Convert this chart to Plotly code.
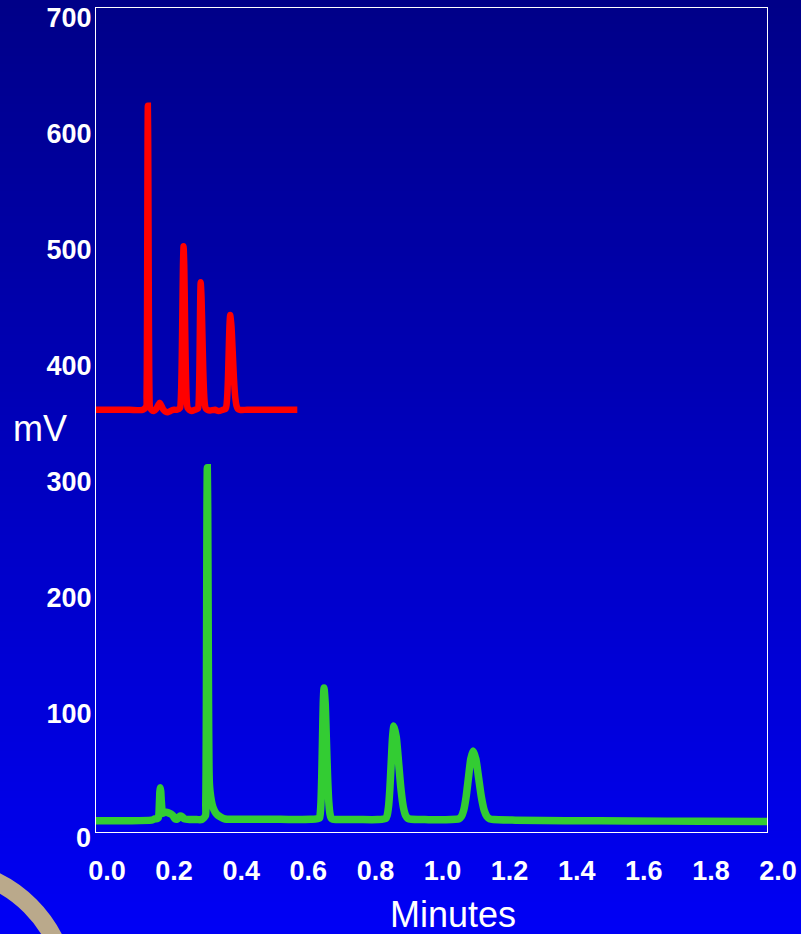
import plotly.graph_objects as go

# ---------------- data ----------------
red_x = [0.000, 0.050, 0.100, 0.140, 0.1500, 0.15075, 0.1515, 0.15225, 0.1530, 0.15375, 0.1545,
         0.1555, 0.1565, 0.1575, 0.1585, 0.1595, 0.1605, 0.165, 0.172, 0.180, 0.186, 0.190, 0.195,
         0.201, 0.207, 0.214, 0.222, 0.230, 0.240, 0.2505, 0.25225, 0.2540, 0.25575, 0.2575, 0.25925,
         0.2610, 0.2630, 0.2650, 0.2670, 0.2690, 0.2710, 0.2730, 0.278, 0.285, 0.295, 0.3045, 0.30575,
         0.3070, 0.30825, 0.3095, 0.31075, 0.3120, 0.3145, 0.3170, 0.3195, 0.3220, 0.3245, 0.3270,
         0.332, 0.340, 0.355, 0.365, 0.378, 0.3865, 0.38875, 0.3910, 0.39325, 0.3955, 0.39775, 0.4000,
         0.40375, 0.4075, 0.41125, 0.4150, 0.41875, 0.4225, 0.4285, 0.450, 0.500, 0.550, 0.600]
red_y = [362, 362, 362, 362, 365, 373.5, 397, 447, 521, 593, 624,
         593, 521, 447, 397, 373.5, 365, 362, 361, 363, 366.5, 368, 365.5,
         362, 360.5, 360, 361, 362, 362, 363.6, 368.2, 381.1, 407.8, 447.5, 486.4,
         503, 486.4, 447.5, 407.8, 381.1, 368.2, 363.6, 362, 361, 362, 363.2, 366.8,
         376.9, 397.7, 428.7, 459.1, 472, 459.1, 428.7, 397.7, 376.9, 366.8, 363.2,
         362, 361.5, 362, 361, 362, 362.9, 365.6, 373.1, 388.5, 411.6, 434.1, 443.7,
         434.1, 411.6, 388.5, 373.1, 365.6, 362.9, 362, 362, 362, 362, 362]

green_x = [0.000, 0.050, 0.100, 0.165, 0.175, 0.183, 0.1849, 0.1871, 0.1893, 0.1904, 0.1915,
           0.1930, 0.1945, 0.1975, 0.2005, 0.206, 0.214, 0.222, 0.229, 0.236, 0.242, 0.250, 0.257,
           0.264, 0.280, 0.300, 0.315, 0.3263, 0.3272, 0.3281, 0.3290, 0.3299, 0.3308, 0.3317,
           0.33295, 0.3342, 0.33545, 0.3367, 0.3380, 0.340, 0.344, 0.348, 0.355, 0.362, 0.370,
           0.380, 0.390, 0.450, 0.550, 0.640, 0.6661, 0.66835, 0.6706, 0.67285, 0.6751, 0.67735,
           0.6796, 0.68315, 0.6867, 0.69025, 0.6938, 0.69735, 0.7009, 0.706, 0.715, 0.780, 0.840,
           0.8637, 0.86775, 0.8718, 0.87585, 0.8799, 0.88395, 0.888, 0.895, 0.902, 0.909, 0.916,
           0.923, 0.930, 0.940, 0.980, 1.040, 1.082, 1.089, 1.096, 1.103, 1.110, 1.117, 1.124,
           1.13225, 1.1405, 1.14875, 1.157, 1.16525, 1.1735, 1.185, 1.250, 1.400, 1.600, 1.800, 2.000]
green_y = [8, 8, 8, 8.5, 9.5, 10, 10.3, 12.3, 25.5, 33.2, 36.5,
           33.2, 25.5, 16, 14.5, 15.5, 15, 14, 12.5, 9.5, 9.5, 12, 11.5,
           9.5, 9, 9, 9, 12.4, 22.3, 50, 107.4, 192.8, 276.4, 312,
           276.4, 192.8, 107.4, 55, 40, 33, 25, 20, 15.5, 13, 11.5,
           10, 9.3, 9.2, 9.2, 9.2, 10.3, 14, 24.3, 45.8, 77.7, 109,
           122.3, 109, 77.7, 45.8, 24.3, 14, 10.3, 9.3, 9, 9, 9,
           9.9, 12.5, 19.9, 35.2, 57.9, 80.1, 89.6, 80.1, 57.9, 35.2, 19.9,
           12.5, 9.9, 9.2, 9, 8.8, 9.65, 11.6, 17, 28.2, 44.8, 61.1, 68,
           61.1, 44.8, 28.2, 17, 11.6, 9.65, 9, 8.5, 8, 7.8, 7.5, 7.3]

x_tick_vals = [0.0, 0.2, 0.4, 0.6, 0.8, 1.0, 1.2, 1.4, 1.6, 1.8, 2.0]
x_tick_text = ["0.0", "0.2", "0.4", "0.6", "0.8", "1.0", "1.2", "1.4", "1.6", "1.8", "2.0"]
y_tick_vals = [100, 200, 300, 400, 500, 600, 700]
y_tick_text = ["100", "200", "300", "400", "500", "600", "700"]
y_zero_text = "0"

# ---------------- layout geometry ----------------
W, H = 801, 934
ML, MR, MT, MB = 96, 34, 8, 102
PW, PH = W - ML - MR, H - MT - MB


def px_x(px):
    return (px - ML) / PW


def px_y(py):
    return (H - MB - py) / PH


FONT = "Liberation Sans, Arial, sans-serif"

fig = go.Figure()
fig.add_trace(go.Scatter(x=green_x, y=green_y, mode="lines",
                         line=dict(color="#33CC33", width=7.5, shape="spline", smoothing=0.6),
                         hoverinfo="skip"))
fig.add_trace(go.Scatter(x=red_x, y=red_y, mode="lines",
                         line=dict(color="#FF0000", width=6.5, shape="spline", smoothing=0.6),
                         hoverinfo="skip"))

shapes = []
# vertical blue gradient background
N = 117
top = (0, 0, 136)
bot = (0, 0, 245)
for i in range(N):
    t = (i + 0.5) / N
    c = tuple(int(round(top[k] + (bot[k] - top[k]) * t)) for k in range(3))
    y0 = i * H / N
    y1 = (i + 1) * H / N + 1
    shapes.append(dict(type="rect", xref="paper", yref="paper",
                       x0=px_x(-2), x1=px_x(W + 2), y0=px_y(y1), y1=px_y(y0),
                       line=dict(width=0), fillcolor="rgb(%d,%d,%d)" % c, layer="below"))
# tan ring in bottom-left corner
cx, cy, r = -61, 997, 129
shapes.append(dict(type="circle", xref="paper", yref="paper",
                   x0=px_x(cx - r), x1=px_x(cx + r), y0=px_y(cy + r), y1=px_y(cy - r),
                   line=dict(color="#BAA98B", width=18), fillcolor="rgba(0,0,0,0)", layer="above"))

annotations = [
    dict(text="mV", xref="paper", yref="paper", x=px_x(40), y=px_y(429),
         xanchor="center", yanchor="middle", showarrow=False,
         font=dict(family=FONT, size=36, color="white")),
    dict(text="Minutes", xref="paper", yref="paper", x=px_x(453), y=px_y(914),
         xanchor="center", yanchor="middle", showarrow=False,
         font=dict(family=FONT, size=36, color="white")),
    dict(text=y_zero_text, xref="paper", yref="paper", x=px_x(93), y=px_y(838),
         xanchor="right", yanchor="middle", showarrow=False,
         font=dict(family=FONT, size=27, color="white", weight="bold")),
]

fig.update_layout(
    width=W, height=H,
    margin=dict(l=ML, r=MR, t=MT, b=MB, pad=0, autoexpand=False),
    paper_bgcolor="#0000C0",
    plot_bgcolor="rgba(0,0,0,0)",
    showlegend=False,
    shapes=shapes,
    annotations=annotations,
    xaxis=dict(range=[0, 2.0], tickmode="array", tickvals=x_tick_vals, ticktext=x_tick_text,
               showgrid=False, zeroline=False, showline=True, mirror=True,
               linecolor="white", linewidth=1, ticks="", automargin=False,
               tickfont=dict(family=FONT, size=27, color="white", weight="bold"),
               ticklabelshift=11, ticklabelstandoff=15, fixedrange=True),
    yaxis=dict(range=[-1.72, 708.2], tickmode="array", tickvals=y_tick_vals, ticktext=y_tick_text,
               showgrid=False, zeroline=False, showline=True, mirror=True,
               linecolor="white", linewidth=1, ticks="", automargin=False,
               tickfont=dict(family=FONT, size=27, color="white", weight="bold"),
               ticklabelstandoff=-2, fixedrange=True),
)

fig.write_html("out.html", config={"displayModeBar": False})
